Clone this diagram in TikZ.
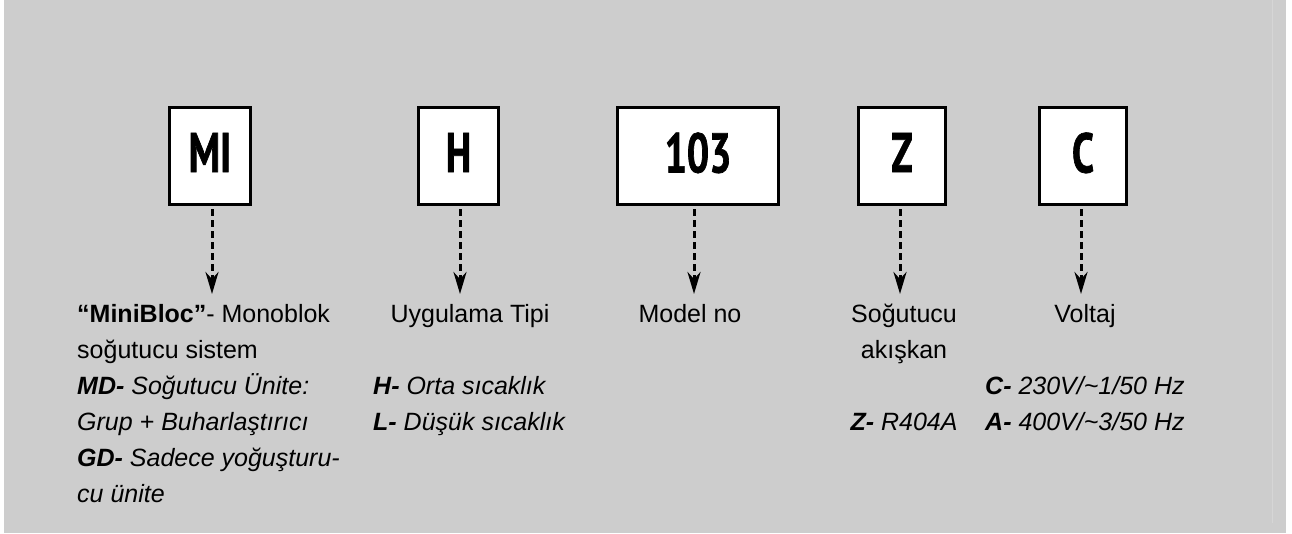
\documentclass[tikz,border=0pt]{standalone}
\usepackage{fontspec}
\setmainfont{Liberation Sans}
\newfontfamily\codefont[FakeStretch=0.7,FakeBold=1.2]{PT Sans Bold}
\usetikzlibrary{arrows.meta,positioning}
\definecolor{panelgray}{RGB}{205,205,205}
\definecolor{edgegray}{RGB}{214,214,214}
\newcommand{\boxline}{3pt}
\newcommand{\tipy}{294}

\begin{document}
\begin{tikzpicture}[x=1pt,y=-1pt,
  codebox/.style={draw,fill=white,line width=\boxline,minimum height=97pt,text depth=7pt,
    font=\codefont\fontsize{56}{56}\selectfont},
  note/.style={inner sep=0pt,font=\fontsize{25}{36}\selectfont},
  flow/.style={line width=3pt,dash pattern=on 7pt off 4pt,shorten <=3pt,
    -{Stealth[length=22pt,width=13pt,inset=7pt]}}]
\useasboundingbox (0,0) rectangle (1292,533);
\fill[panelgray] (4,0) rectangle (1286,533);
\draw[edgegray,line width=1pt] (1272,0) -- (1272,523);
%boxes
\node[codebox,minimum width=81pt] (mi) at (210,156) {MI};
\node[codebox,minimum width=80pt] (h) at (458.5,156) {H};
\node[codebox,minimum width=161pt] (no) at (698,156) {103};
\node[codebox,minimum width=87pt] (z) at (902,156) {Z};
\node[codebox,minimum width=87pt] (c) at (1083,156) {C};
%tips
\coordinate (mi-tip) at (212,\tipy);
\coordinate (h-tip) at (460,\tipy);
\coordinate (no-tip) at (694,\tipy);
\coordinate (z-tip) at (900,\tipy);
\coordinate (c-tip) at (1081,\tipy);
\draw[flow] (mi-tip |- mi.south) -- (mi-tip);
\draw[flow] (h-tip |- h.south) -- (h-tip);
\draw[flow] (no-tip |- no.south) -- (no-tip);
\draw[flow] (z-tip |- z.south) -- (z-tip);
\draw[flow] (c-tip |- c.south) -- (c-tip);
%MI (base = last line)
\node[note,anchor=base west,align=left] (mi-text) at (77,502)
  {\textbf{“MiniBloc”}- Monoblok\\
   soğutucu sistem\\
   \textbf{\textit{MD-}} \textit{Soğutucu Ünite:}\\
   \textit{Grup + Buharlaştırıcı}\\
   \textbf{\textit{GD-}} \textit{Sadece yoğuşturu-}\\
   \textit{cu ünite}};
%H
\node[note,anchor=base] (h-title) at (470,322) {Uygulama Tipi};
\node[note,anchor=base west,align=left] (h-text) at (373,430)
  {\textbf{\textit{H-}} \textit{Orta sıcaklık}\\
   \textbf{\textit{L-}} \textit{Düşük sıcaklık}};
%103
\node[note,anchor=base] (no-title) at (690,322) {Model no};
%Z
\node[note,anchor=base,align=center] (z-title) at (904,358) {Soğutucu\\akışkan};
\node[note,anchor=base] (z-text) at (904,430) {\textbf{\textit{Z-}} \textit{R404A}};
%C
\node[note,anchor=base] (c-title) at (1085,322) {Voltaj};
\node[note,anchor=base west,align=left] (c-text) at (985,430)
  {\textbf{\textit{C-}} \textit{230V/\textasciitilde1/50 Hz}\\
   \textbf{\textit{A-}} \textit{400V/\textasciitilde3/50 Hz}};
\end{tikzpicture}
\end{document}
